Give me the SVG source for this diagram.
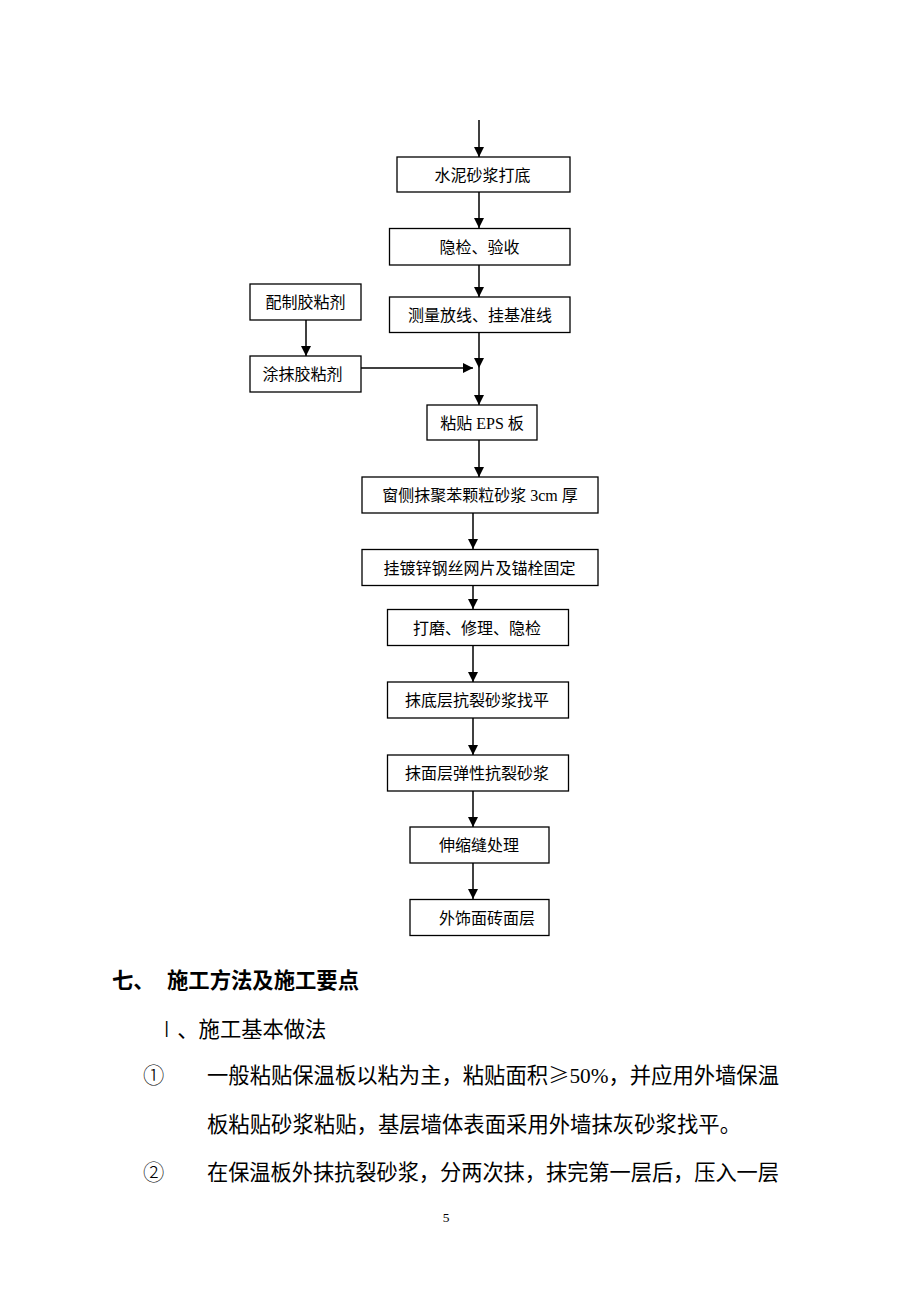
<svg xmlns="http://www.w3.org/2000/svg" width="920" height="1302" viewBox="0 0 920 1302">
<style>
.box{fill:#fff;stroke:#000;stroke-width:1.3}
.lbl{font-family:"Liberation Serif","Noto Sans CJK SC",serif;font-size:16px;fill:#000;text-anchor:middle}
.con{stroke:#000;stroke-width:1.5;fill:none;marker-end:url(#ah)}
.body{font-family:"Liberation Serif","Noto Sans CJK SC",serif;font-size:21.3px;fill:#000}
.cjk{font-family:"Noto Sans CJK SC",sans-serif;font-weight:300}
.head{font-family:"Liberation Sans","Noto Sans CJK SC",sans-serif;font-size:21.3px;font-weight:bold;fill:#000}
</style>
<defs>
<marker id="ah" markerUnits="userSpaceOnUse" markerWidth="10" markerHeight="10" refX="10" refY="5" orient="auto">
<path d="M0,0 L10,5 L0,10 z" fill="#000"/>
</marker>
</defs>
<rect width="920" height="1302" fill="#fff"/>
<g id="connectors">
<line class="con" x1="479" y1="120" x2="479" y2="157"/>
<line class="con" x1="479" y1="192" x2="479" y2="228"/>
<line class="con" x1="479" y1="265" x2="479" y2="297"/>
<line class="con" x1="479" y1="332" x2="479" y2="368"/>
<line class="con" x1="479" y1="368" x2="479" y2="405"/>
<line class="con" x1="306" y1="303" x2="306" y2="356"/>
<line class="con" x1="361" y1="368" x2="473" y2="368"/>
<line class="con" x1="479" y1="440" x2="479" y2="477"/>
<line class="con" x1="473" y1="513" x2="473" y2="549"/>
<line class="con" x1="473" y1="586" x2="473" y2="609"/>
<line class="con" x1="473" y1="646" x2="473" y2="682"/>
<line class="con" x1="473" y1="718" x2="473" y2="755"/>
<line class="con" x1="473" y1="791" x2="473" y2="827"/>
<line class="con" x1="473" y1="863" x2="473" y2="899"/>
</g>
<g id="n1"><rect class="box" x="397" y="157" width="173" height="35"/><text class="lbl" x="482.5" y="180.5">水泥砂浆打底</text></g>
<g id="n2"><rect class="box" x="389.5" y="228.5" width="180.5" height="36.5"/><text class="lbl" x="479.5" y="252.5">隐检、验收</text></g>
<g id="n3"><rect class="box" x="389.5" y="297" width="180.5" height="35.5"/><text class="lbl" x="480" y="320.5">测量放线、挂基准线</text></g>
<g id="nA"><rect class="box" x="250" y="284" width="111" height="36"/><text class="lbl" x="305.5" y="308">配制胶粘剂</text></g>
<g id="nB"><rect class="box" x="250" y="356" width="111" height="36"/><text class="lbl" x="302.5" y="380">涂抹胶粘剂</text></g>
<g id="n4"><rect class="box" x="427" y="405" width="110" height="35"/><text class="lbl" x="482" y="428.5">粘贴 EPS 板</text></g>
<g id="n5"><rect class="box" x="362" y="477" width="236" height="36"/><text class="lbl" x="480" y="501">窗侧抹聚苯颗粒砂浆 3cm 厚</text></g>
<g id="n6"><rect class="box" x="362" y="549.5" width="236" height="36"/><text class="lbl" x="479.5" y="573.5">挂镀锌钢丝网片及锚栓固定</text></g>
<g id="n7"><rect class="box" x="387.5" y="609.5" width="181" height="36"/><text class="lbl" x="477" y="633.5">打磨、修理、隐检</text></g>
<g id="n8"><rect class="box" x="387.5" y="682" width="181" height="36"/><text class="lbl" x="477" y="706">抹底层抗裂砂浆找平</text></g>
<g id="n9"><rect class="box" x="387.5" y="755" width="181" height="36"/><text class="lbl" x="477" y="779">抹面层弹性抗裂砂浆</text></g>
<g id="n10"><rect class="box" x="410" y="827" width="139" height="36"/><text class="lbl" x="479" y="851">伸缩缝处理</text></g>
<g id="n11"><rect class="box" x="410" y="899.5" width="139" height="36"/><text class="lbl" x="487" y="923.5">外饰面砖面层</text></g>
<g id="text">
<text class="head" x="112" y="988">七、</text>
<text class="head" x="167" y="988" textLength="192" lengthAdjust="spacingAndGlyphs">施工方法及施工要点</text>
<text class="body" x="156" y="1037"><tspan class="cjk">Ⅰ</tspan>、施工基本做法</text>
<text class="body cjk" x="143" y="1083">①</text>
<text class="body" x="207" y="1083" textLength="572" lengthAdjust="spacingAndGlyphs">一般粘贴保温板以粘为主，粘贴面积<tspan class="cjk">≥</tspan>50%，并应用外墙保温</text>
<text class="body" x="207" y="1132" textLength="534" lengthAdjust="spacingAndGlyphs">板粘贴砂浆粘贴，基层墙体表面采用外墙抹灰砂浆找平。</text>
<text class="body cjk" x="143" y="1180">②</text>
<text class="body" x="207" y="1180" textLength="572" lengthAdjust="spacingAndGlyphs">在保温板外抹抗裂砂浆，分两次抹，抹完第一层后，压入一层</text>
<text x="446" y="1222" font-family="Liberation Serif, serif" font-size="13.5" text-anchor="middle">5</text>
</g>
</svg>
